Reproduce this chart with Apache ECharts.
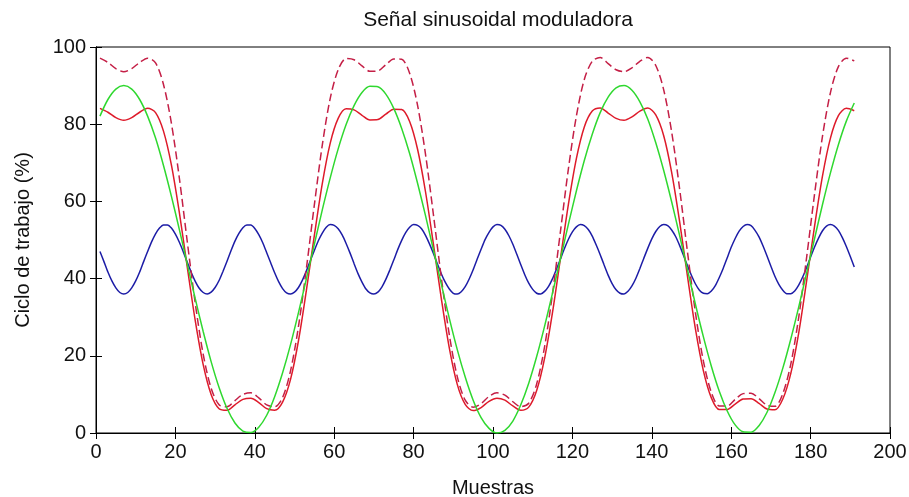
<!DOCTYPE html>
<html lang="es">
<head>
    <meta charset="UTF-8">
    <title>Señal sinusoidal moduladora</title>
    <style>
        body,html{
            margin: 0;
            height: 100%;
            width: 100%;
            background: #fff;
        }
    </style>
</head>
<body>

<div id="main" style="width: 909px; height: 497px;"></div>
<script src="https://cdn.jsdelivr.net/npm/echarts@6/dist/echarts.min.js"></script>
<script>
    // sample index of the green / red curves (every second sample)
    var muestras = [1,3,5,7,9,11,13,15,17,19,21,23,25,27,29,31,33,35,37,39,
        41,43,45,47,49,51,53,55,57,59,61,63,65,67,69,71,73,75,77,79,
        81,83,85,87,89,91,93,95,97,99,101,103,105,107,109,111,113,115,117,119,
        121,123,125,127,129,131,133,135,137,139,141,143,145,147,149,151,153,155,157,159,
        161,163,165,167,169,171,173,175,177,179,181,183,185,187,189,191];

    // blue, one value per sample (samples 1..191)
    var moduladora = [47.0,44.4,41.7,39.4,37.6,36.4,36.0,36.4,37.6,39.4,
        41.7,44.4,47.0,49.5,51.6,53.1,53.9,53.9,53.1,51.5,
        49.4,46.9,44.2,41.6,39.3,37.5,36.4,36.0,36.5,37.7,
        39.5,41.9,44.5,47.2,49.7,51.7,53.2,53.9,53.9,53.0,
        51.4,49.3,46.7,44.1,41.5,39.2,37.4,36.3,36.0,36.5,
        37.7,39.6,42.0,44.7,47.3,49.8,51.8,53.3,54.0,53.8,
        52.9,51.3,49.1,46.6,43.9,41.3,39.1,37.3,36.3,36.0,
        36.5,37.8,39.8,42.2,44.8,47.5,49.9,51.9,53.3,54.0,
        53.8,52.9,51.2,49.0,46.5,43.8,41.2,39.0,37.3,36.2,
        36.0,36.6,37.9,39.9,42.3,45.0,47.6,50.1,52.0,53.4,
        54.0,53.8,52.8,51.1,48.9,46.3,43.6,41.0,38.8,37.2,
        36.2,36.0,36.7,38.0,40.0,42.5,45.1,47.8,50.2,52.1,
        53.4,54.0,53.7,52.7,51.0,48.7,46.2,43.5,40.9,38.7,
        37.1,36.2,36.0,36.7,38.1,40.1,42.6,45.3,47.9,50.3,
        52.2,53.5,54.0,53.7,52.6,50.9,48.6,46.0,43.3,40.8,
        38.6,37.0,36.2,36.1,36.8,38.2,40.3,42.7,45.4,48.1,
        50.4,52.3,53.5,54.0,53.7,52.5,50.8,48.5,45.9,43.2,
        40.6,38.5,37.0,36.1,36.1,36.8,38.3,40.4,42.9,45.6,
        48.2,50.5,52.4,53.6,54.0,53.6,52.5,50.6,48.3,45.7,
        43.0];

    // green
    var senal = [82.1,86.4,89.1,90.0,89.1,86.4,82.1,76.4,69.3,61.3,
        52.7,43.7,34.8,26.3,18.5,11.8,6.4,2.6,0.5,0.1,
        1.5,4.6,9.4,15.6,22.9,31.2,40.0,48.9,57.8,66.1,
        73.6,79.9,84.8,88.2,89.8,89.7,87.8,84.1,78.9,72.4,
        64.7,56.3,47.4,38.5,29.7,21.6,14.5,8.5,4.0,1.2,
        0.0,0.7,3.1,7.3,12.9,19.8,27.7,36.3,45.2,54.1,
        62.7,70.6,77.4,83.0,87.0,89.4,90.0,88.8,85.8,81.3,
        75.2,68.0,59.9,51.2,42.2,33.3,24.9,17.3,10.8,5.7,
        2.1,0.3,0.2,1.9,5.3,10.4,16.8,24.3,32.6,41.5,
        50.4,59.2,67.4,74.7,80.8,85.5];

    // red solid
    var ciclo = [84.1,83.1,81.7,81.0,81.7,83.1,84.1,83.0,78.2,69.4,
        57.1,42.9,29.1,17.7,10.0,6.3,5.9,7.3,8.7,9.0,
        7.9,6.3,5.9,8.0,13.9,23.9,37.0,51.2,64.6,75.1,
        81.5,84.0,83.7,82.3,81.1,81.2,82.6,83.9,83.8,80.7,
        73.5,62.5,48.9,34.7,22.0,12.6,7.4,5.8,6.6,8.2,
        9.0,8.5,7.0,5.9,6.7,11.0,19.4,31.3,45.3,59.3,
        71.1,79.3,83.4,84.2,82.9,81.5,81.0,81.9,83.4,84.2,
        82.4,77.0,67.5,54.8,40.5,26.9,16.1,9.1,6.1,6.1,
        7.5,8.8,8.9,7.7,6.2,6.0,8.8,15.4,25.9,39.4,
        53.6,66.6,76.4,82.2,84.1,83.5];

    // red dashed
    var cicloMax = [97.1,96.0,94.4,93.6,94.4,96.0,97.1,95.9,90.3,80.2,
        66.0,49.5,33.6,20.4,11.6,7.3,6.8,8.4,10.0,10.4,
        9.1,7.3,6.8,9.2,16.1,27.6,42.7,59.1,74.6,86.7,
        94.1,97.0,96.7,95.1,93.7,93.8,95.4,96.9,96.8,93.2,
        84.9,72.2,56.5,40.1,25.4,14.6,8.5,6.7,7.6,9.5,
        10.4,9.8,8.1,6.8,7.7,12.7,22.4,36.2,52.3,68.5,
        82.1,91.6,96.3,97.3,95.7,94.1,93.6,94.6,96.3,97.3,
        95.2,88.9,78.0,63.3,46.8,31.1,18.6,10.5,7.0,7.0,
        8.7,10.2,10.3,8.9,7.2,6.9,10.2,17.8,29.9,45.5,
        61.9,76.9,88.2,94.9,97.1,96.4];

    function pares(ys) {
        return muestras.map(function (x, i) { return [x, ys[i]]; });
    }

    var fuente = '"Liberation Sans", Arial, sans-serif';
    var txt = {color: '#111', fontFamily: fuente, fontSize: 20};

    var myChart = echarts.init(document.getElementById('main'));
    myChart.setOption({
        backgroundColor: '#fff',
        animation: false,
        title: {
            text: 'Señal sinusoidal moduladora',
            left: 493,
            textAlign: 'center',
            top: 5,
            textStyle: {color: '#111', fontFamily: fuente, fontSize: 21, fontWeight: 'normal'}
        },
        grid: {
            left: 96, right: 19, top: 47, bottom: 64,
            outerBoundsMode: 'none',
            show: true, borderColor: '#000', borderWidth: 1
        },
        xAxis: [{
            type: 'value', min: 0, max: 200, interval: 20,
            name: 'Muestras', nameLocation: 'middle', nameGap: 45,
            nameTextStyle: txt,
            axisLine: {lineStyle: {color: '#000'}},
            axisTick: {inside: true, length: 6, lineStyle: {color: '#000'}},
            axisLabel: Object.assign({margin: 9}, txt),
            splitLine: {show: false}
        }, {
            type: 'value', min: 0, max: 200, interval: 20, position: 'top',
            axisLine: {lineStyle: {color: '#000'}},
            axisTick: {inside: true, length: 6, lineStyle: {color: '#000'}},
            axisLabel: {show: false},
            splitLine: {show: false}
        }],
        yAxis: [{
            type: 'value', min: 0, max: 100, interval: 20,
            name: 'Ciclo de trabajo (%)', nameLocation: 'middle', nameGap: 63,
            nameTextStyle: txt,
            axisLine: {show: true, lineStyle: {color: '#000'}},
            axisTick: {show: true, inside: true, length: 6, lineStyle: {color: '#000'}},
            axisLabel: Object.assign({margin: 10}, txt),
            splitLine: {show: false}
        }, {
            type: 'value', min: 0, max: 100, interval: 20, position: 'right',
            axisLine: {show: true, lineStyle: {color: '#000'}},
            axisTick: {show: true, inside: true, length: 6, lineStyle: {color: '#000'}},
            axisLabel: {show: false},
            splitLine: {show: false}
        }],
        series: [
            {
                type: 'line', showSymbol: false, smooth: 0.2,
                data: moduladora.map(function (y, i) { return [i + 1, y]; }),
                lineStyle: {color: '#1c1ca6', width: 1.5}
            },
            {
                type: 'line', data: pares(ciclo), showSymbol: false, smooth: 0.3,
                lineStyle: {color: '#de1a2a', width: 1.5}
            },
            {
                type: 'line', data: pares(cicloMax), showSymbol: false, smooth: 0.3,
                lineStyle: {color: '#c41f46', width: 1.5, type: [8, 4]}
            },
            {
                type: 'line', data: pares(senal), showSymbol: false, smooth: 0.3,
                lineStyle: {color: '#2fd82f', width: 1.5}
            }
        ]
    });
</script>
</body>
</html>
